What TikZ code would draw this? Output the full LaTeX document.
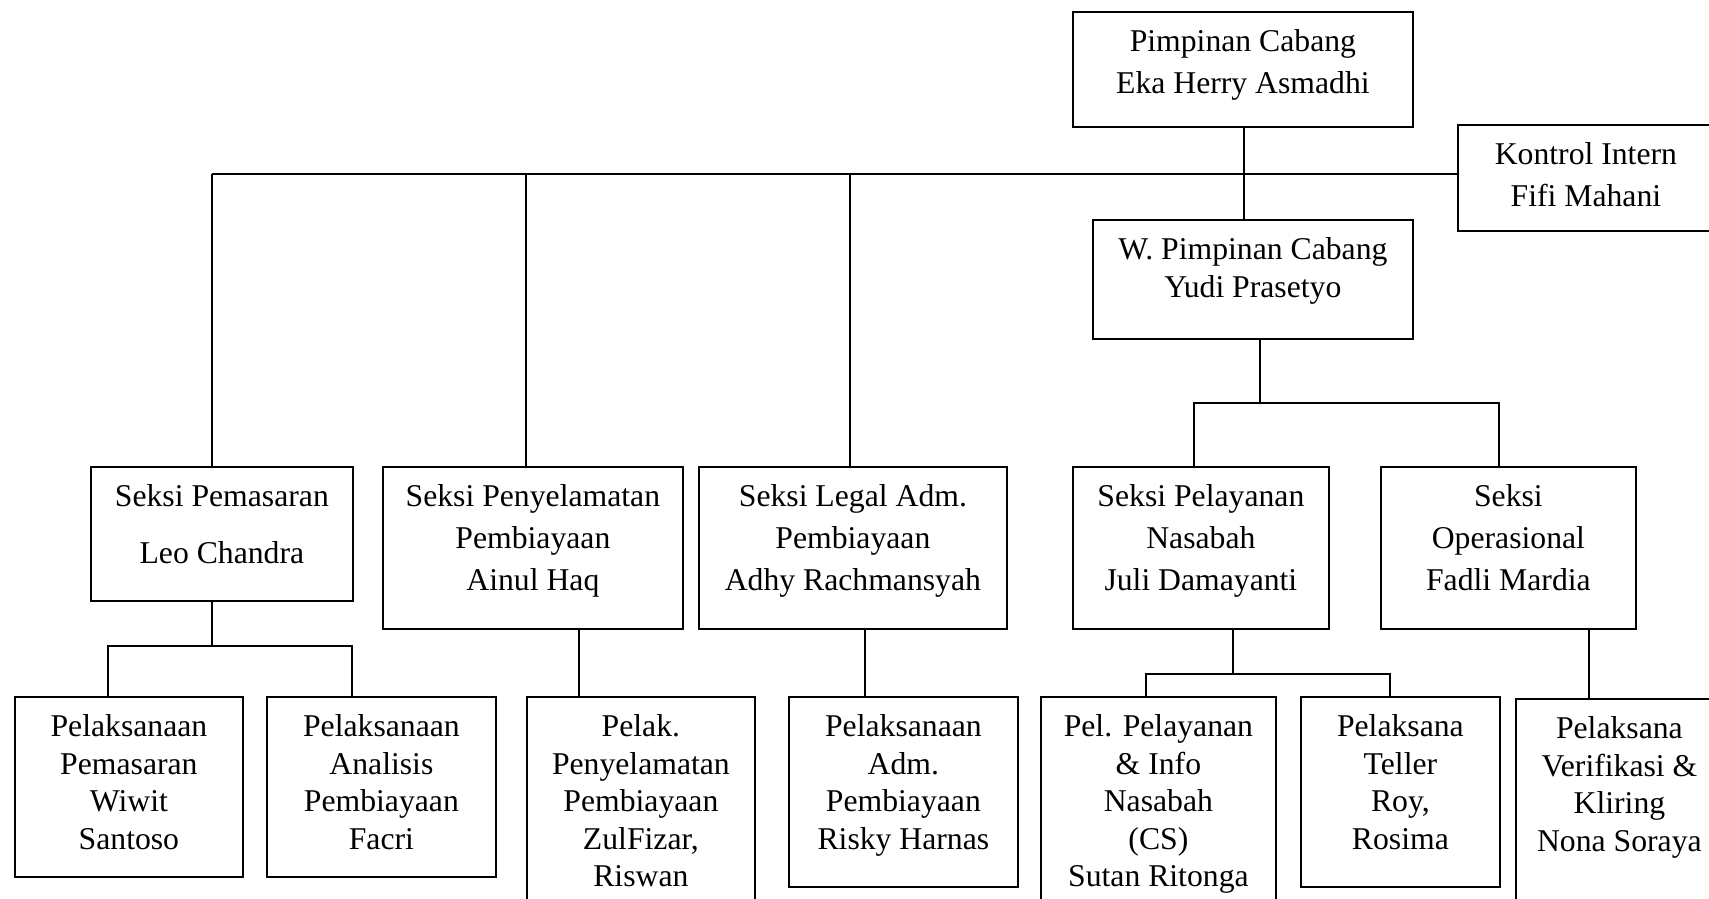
\documentclass[tikz,border=0pt]{standalone}
\usepackage{fontspec}
\setmainfont{Liberation Serif}
\newcommand{\orgcell}[3]{\parbox[t][#2][t]{#1}{\centering\rule{0pt}{40pt}#3}}

\tikzset{
  unit/.style={draw, line width=1.8pt, anchor=north west, inner sep=0pt,
    font=\fontsize{31.7}{42}\selectfont},
  staff/.style={unit, font=\fontsize{31.7}{37.5}\selectfont},
  link/.style={line width=1.8pt}
}

\begin{document}
\begin{tikzpicture}[x=1pt, y=-1pt]
\useasboundingbox (0,0) rectangle (1709,898);
\clip (0,0) rectangle (1709,898);

% pimpinan
\node[unit] (pc) at (1072,11) {\orgcell{340pt}{115pt}{Pimpinan Cabang\\Eka Herry Asmadhi}};
\node[unit] (ki) at (1457,124) {\orgcell{256pt}{106pt}{Kontrol Intern\\Fifi Mahani}};
\node[staff] (wpc) at (1092,219) {\orgcell{320pt}{119pt}{W. Pimpinan Cabang\\Yudi Prasetyo}};

% seksi
\node[unit, font=\fontsize{31.7}{57}\selectfont] (sp) at (90,466) {\orgcell{262pt}{134pt}{Seksi Pemasaran\\Leo Chandra}};
\node[unit] (spp) at (382,466) {\orgcell{300pt}{162pt}{Seksi Penyelamatan\\Pembiayaan\\Ainul Haq}};
\node[unit] (sla) at (698,466) {\orgcell{308pt}{162pt}{Seksi Legal Adm.\\Pembiayaan\\Adhy Rachmansyah}};
\node[unit] (spn) at (1072,466) {\orgcell{256pt}{162pt}{Seksi Pelayanan\\Nasabah\\Juli Damayanti}};
\node[unit] (so) at (1380,466) {\orgcell{255pt}{162pt}{Seksi\\Operasional\\Fadli Mardia}};

% pelaksana
\node[staff] (pps) at (14,696) {\orgcell{228pt}{180pt}{Pelaksanaan\\Pemasaran\\Wiwit\\Santoso}};
\node[staff] (pap) at (266,696) {\orgcell{229pt}{180pt}{Pelaksanaan\\Analisis\\Pembiayaan\\Facri}};
\node[staff] (ppp) at (526,696) {\orgcell{228pt}{224pt}{Pelak.\\Penyelamatan\\Pembiayaan\\ZulFizar,\\Riswan}};
\node[staff] (pad) at (788,696) {\orgcell{229pt}{190pt}{Pelaksanaan\\Adm.\\Pembiayaan\\Risky Harnas}};
\node[staff] (ppi) at (1040,696) {\orgcell{235pt}{224pt}{Pel. Pelayanan\\\& Info\\Nasabah\\(CS)\\Sutan Ritonga}};
\node[staff] (pt) at (1300,696) {\orgcell{199pt}{190pt}{Pelaksana\\Teller\\Roy,\\Rosima}};
\node[staff] (pvk) at (1515,698) {\orgcell{207pt}{222pt}{Pelaksana\\Verifikasi \&\\Kliring\\Nona Soraya}};

% garis
\coordinate (hub) at (1244,174);
\coordinate (d1) at (212,174);
\coordinate (d2) at (526,174);
\coordinate (d3) at (850,174);
\draw[link] (hub |- pc.south) -- (hub |- wpc.north);
\draw[link] (d1) -- (ki.west |- hub);
\draw[link] (d1) -- (d1 |- sp.north);
\draw[link] (d2) -- (d2 |- spp.north);
\draw[link] (d3) -- (d3 |- sla.north);

\coordinate (w0) at (1260,403);
\coordinate (w1) at (1194,403);
\coordinate (w2) at (1499,403);
\draw[link] (w0 |- wpc.south) -- (w0);
\draw[link] (w1 |- spn.north) -- (w1) -- (w2) -- (w2 |- so.north);

\coordinate (m0) at (212,646);
\coordinate (m1) at (108,646);
\coordinate (m2) at (352,646);
\draw[link] (m0 |- sp.south) -- (m0);
\draw[link] (m1 |- pps.north) -- (m1) -- (m2) -- (m2 |- pap.north);

\coordinate (k1) at (579,662);
\coordinate (k2) at (865,662);
\coordinate (k3) at (1589,662);
\draw[link] (k1 |- spp.south) -- (k1 |- ppp.north);
\draw[link] (k2 |- sla.south) -- (k2 |- pad.north);
\draw[link] (k3 |- so.south) -- (k3 |- pvk.north);

\coordinate (n0) at (1233,674);
\coordinate (n1) at (1146,674);
\coordinate (n2) at (1390,674);
\draw[link] (n0 |- spn.south) -- (n0);
\draw[link] (n1 |- ppi.north) -- (n1) -- (n2) -- (n2 |- pt.north);
\end{tikzpicture}
\end{document}
